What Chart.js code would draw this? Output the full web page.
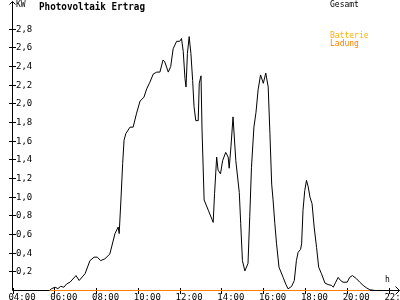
<!DOCTYPE html>
<html><head><meta charset="utf-8">
<script src="https://cdn.jsdelivr.net/npm/chart.js@4"></script>
<style>html,body{margin:0;padding:0;background:#fff}canvas{display:block}</style>
</head><body>
<canvas id="c" width="400" height="300"></canvas>
<script>
const times = ["05:45","05:51","06:01","06:09","06:17","06:26","06:34","06:44","07:01","07:10","07:27","07:41","07:53","08:02","08:12","08:24","08:38","08:53","09:02","09:05","09:10","09:15","09:19","09:24","09:36","09:45","09:55","10:05","10:16","10:24","10:33","10:43","10:53","11:02","11:11","11:16","11:26","11:33","11:40","11:50","11:59","12:04","12:09","12:14","12:17","12:21","12:26","12:31","12:36","12:40","12:45","12:52","12:55","13:00","13:03","13:09","13:21","13:35","13:39","13:45","13:49","13:56","14:02","14:11","14:18","14:21","14:26","14:32","14:40","14:50","14:54","14:59","15:06","15:15","15:20","15:25","15:32","15:38","15:44","15:51","15:59","16:06","16:13","16:18","16:23","16:27","16:32","16:37","16:44","16:56","17:04","17:10","17:20","17:28","17:34","17:39","17:46","17:49","17:53","17:58","18:03","18:08","18:13","18:19","18:25","18:32","18:38","18:46","18:56","19:05","19:15","19:20","19:27","19:34","19:41","19:48","20:00","20:07","20:15","20:27","20:36","20:46","20:55","21:05","21:20"];
const gesamt = [0,0.02,0.035,0.02,0.045,0.035,0.07,0.09,0.16,0.107,0.18,0.32,0.357,0.357,0.32,0.34,0.39,0.61,0.68,0.61,0.97,1.36,1.61,1.68,1.75,1.75,1.90,2.03,2.07,2.16,2.23,2.32,2.34,2.34,2.47,2.45,2.34,2.40,2.59,2.67,2.67,2.70,2.56,2.27,2.18,2.54,2.72,2.54,2.25,1.97,1.82,1.82,2.22,2.30,1.72,0.97,0.86,0.73,1.04,1.43,1.29,1.25,1.39,1.48,1.43,1.31,1.54,1.86,1.39,1.05,0.72,0.32,0.21,0.29,0.79,1.32,1.75,1.91,2.15,2.31,2.22,2.33,2.18,1.68,1.14,0.97,0.72,0.50,0.25,0.14,0.064,0.018,0.043,0.107,0.32,0.41,0.44,0.50,0.86,1.07,1.18,1.11,1.00,0.93,0.68,0.46,0.25,0.18,0.08,0.064,0.054,0.036,0.089,0.14,0.107,0.089,0.089,0.14,0.16,0.125,0.089,0.054,0.029,0.008,0];
const ladungTimes = ["05:45","21:05"];
const ladung = [0,0];
const xTickHours = [4,6,8,10,12,14,16,18,20,22];
const yTickValues = [0.2,0.4,0.6,0.8,1.0,1.2,1.4,1.6,1.8,2.0,2.2,2.4,2.6,2.8];
const titleText = "Photovoltaik Ertrag";
const unitText = "KW";
const hourText = "h";
const legendGesamt = "Gesamt";
const legendBatterie = "Batterie";
const legendLadung = "Ladung";

function toH(s){const p=s.split(':').map(Number);return p[0]+p[1]/60;}
const pad2 = n => String(n).padStart(2,'0');

const axesPlugin = {
  id:'axesPlugin',
  beforeDatasetsDraw(chart){
    const {ctx, scales:{x,y}} = chart;
    ctx.save();
    ctx.strokeStyle='#000'; ctx.lineWidth=1;
    ctx.beginPath();
    const ax = 12.5, ay = 290.5;
    ctx.moveTo(ax, ay); ctx.lineTo(ax, 1.5);
    ctx.moveTo(9.5,4.5); ctx.lineTo(ax,1.5); ctx.lineTo(15.5,4.5);
    ctx.moveTo(ax, ay); ctx.lineTo(399.5, ay);
    ctx.moveTo(395.5,286.5); ctx.lineTo(399.5,ay); ctx.lineTo(395.5,294.5);
    yTickValues.forEach(v=>{
      const py = Math.round(y.getPixelForValue(v)-0.5)+0.5;
      ctx.moveTo(9,py); ctx.lineTo(16,py);
    });
    xTickHours.forEach(h=>{
      const px = Math.round(x.getPixelForValue(h)-0.5)+0.5;
      ctx.moveTo(px,288); ctx.lineTo(px,294);
    });
    ctx.stroke();
    ctx.restore();
  },
  afterDraw(chart){
    const ctx = chart.ctx;
    ctx.save();
    ctx.textBaseline='top'; ctx.textAlign='left';
    ctx.fillStyle='#000';
    ctx.font='bold 11px "DejaVu Sans Mono"';
    ctx.fillText(titleText, 39, 2, 106);
    ctx.font='8px "DejaVu Sans Mono"';
    ctx.fillText(unitText, 16, 1);
    ctx.fillText(legendGesamt, 330, 1, 30);
    ctx.fillText(hourText, 385, 276);
    ctx.fillStyle='#ffb000';
    ctx.fillText(legendBatterie, 330, 32, 40);
    ctx.fillStyle='#ff8000';
    ctx.fillText(legendLadung, 330, 40, 30);
    ctx.restore();
  }
};

new Chart(document.getElementById('c'), {
  type:'line',
  data:{
    datasets:[
      {label:legendLadung, data:ladungTimes.map((t,i)=>({x:toH(t),y:ladung[i]})), borderColor:'#ff8000', borderWidth:1, pointRadius:0, tension:0, clip:false, order:0},
      {label:legendGesamt, data:times.map((t,i)=>({x:toH(t),y:gesamt[i]})), borderColor:'#000', borderWidth:1, pointRadius:0, tension:0, clip:false, order:1}
    ]
  },
  options:{
    responsive:false, animation:false, devicePixelRatio:1,
    layout:{padding:{left:0,right:11,top:10.5,bottom:0}},
    plugins:{legend:{display:false},tooltip:{enabled:false},title:{display:false}},
    scales:{
      x:{type:'linear',min:4,max:22,
        grid:{display:false,drawTicks:false}, border:{display:false},
        afterBuildTicks:s=>{s.ticks=xTickHours.map(v=>({value:v}));},
        afterFit:s=>{s.height=9.5;s.paddingLeft=0;s.paddingRight=0;},
        ticks:{autoSkip:false,maxRotation:0,minRotation:0,padding:2,labelOffset:9,color:'#000',
          font:{family:'DejaVu Sans Mono',size:9},
          callback:v=>pad2(v)+':00'}
      },
      y:{type:'linear',min:0,max:3,
        grid:{display:false,drawTicks:false}, border:{display:false},
        afterBuildTicks:s=>{s.ticks=yTickValues.map(v=>({value:v}));},
        afterFit:s=>{s.width=13;s.paddingTop=0;s.paddingBottom=0;},
        ticks:{mirror:true,padding:3,color:'#000',
          font:{family:'DejaVu Sans Mono',size:9},
          callback:v=>v.toFixed(1).replace('.',',')}
      }
    }
  },
  plugins:[axesPlugin]
});
</script>
</body></html>
